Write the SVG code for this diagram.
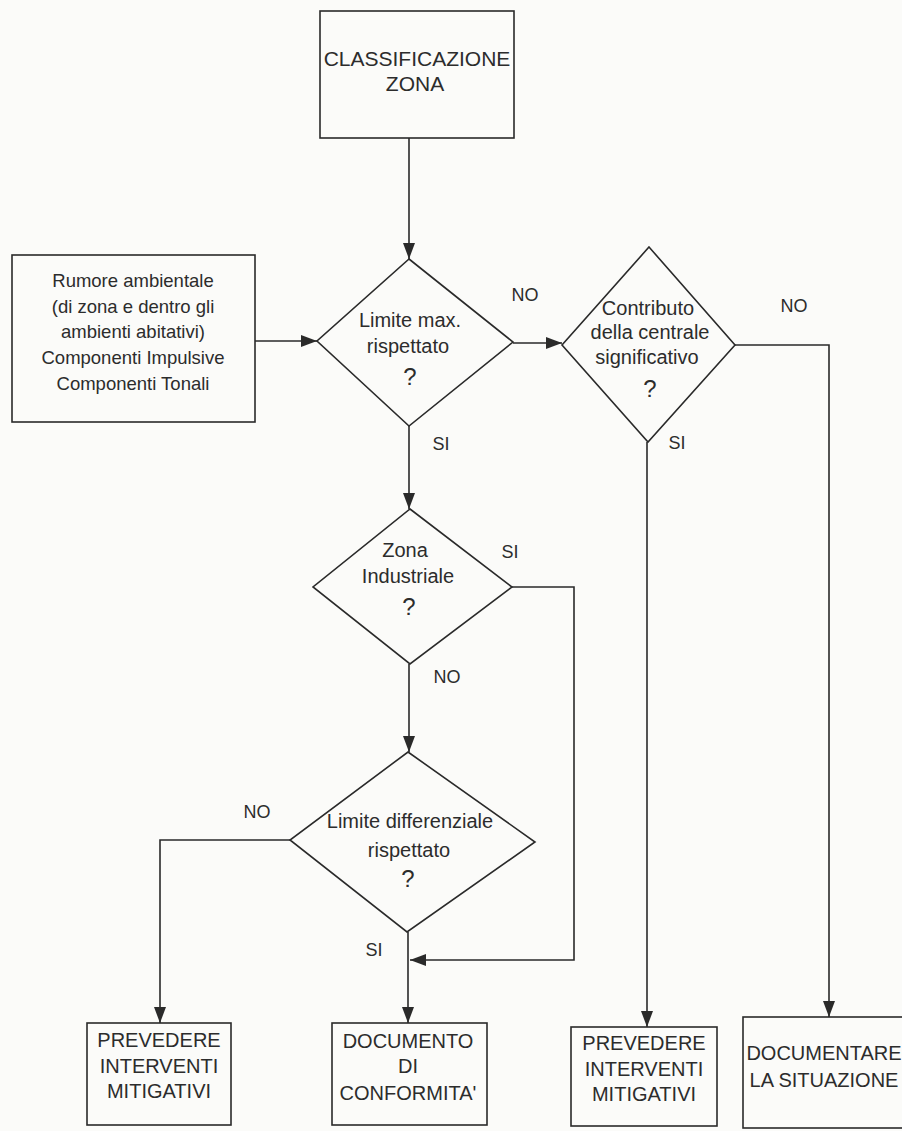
<svg xmlns="http://www.w3.org/2000/svg" width="902" height="1131" viewBox="0 0 902 1131">
<style>
  .box { fill: none; stroke: #2a2a2a; stroke-width: 1.6; }
  .dia { fill: none; stroke: #2a2a2a; stroke-width: 1.6; }
  .ln { fill: none; stroke: #2a2a2a; stroke-width: 1.6; }
  text { font-family: "Liberation Sans", Arial, sans-serif; fill: #2c2c2c; text-anchor: middle; }
  .cap { font-size: 20px; }
  .cap21 { font-size: 21px; }
  .low { font-size: 20px; }
  .lb { font-size: 18.5px; }
  .q { font-size: 24px; }
  .lab { font-size: 18px; }
</style>
<defs>
  <marker id="arr" viewBox="0 0 16 12" refX="16" refY="6" markerWidth="16" markerHeight="12" markerUnits="userSpaceOnUse" orient="auto">
    <path d="M0,0 L16,6 L0,12 Z" fill="#2a2a2a"/>
  </marker>
</defs>
<rect x="0" y="0" width="902" height="1131" fill="#fbfbf9"/>

<g id="connectors">
  <line class="ln" x1="409" y1="138" x2="409" y2="259" marker-end="url(#arr)"/>
  <line class="ln" x1="255" y1="341" x2="317" y2="341" marker-end="url(#arr)"/>
  <line class="ln" x1="513" y1="343" x2="562" y2="343" marker-end="url(#arr)"/>
  <line class="ln" x1="409" y1="426" x2="409" y2="509" marker-end="url(#arr)"/>
  <line class="ln" x1="409" y1="664" x2="409" y2="752" marker-end="url(#arr)"/>
  <polyline class="ln" points="290,840 160,840 160,1023" marker-end="url(#arr)"/>
  <line class="ln" x1="408" y1="932" x2="408" y2="1023" marker-end="url(#arr)"/>
  <polyline class="ln" points="512,587 574,587 574,960 410,960" marker-end="url(#arr)"/>
  <polyline class="ln" points="735,345 829,345 829,1017" marker-end="url(#arr)"/>
  <line class="ln" x1="647" y1="442" x2="647" y2="1027" marker-end="url(#arr)"/>
  <text class="lab" x="525" y="301">NO</text>
  <text class="lab" x="441" y="450">SI</text>
  <text class="lab" x="794" y="312">NO</text>
  <text class="lab" x="677" y="449">SI</text>
  <text class="lab" x="510" y="558">SI</text>
  <text class="lab" x="447" y="683">NO</text>
  <text class="lab" x="257" y="818">NO</text>
  <text class="lab" x="374" y="956">SI</text>
</g>

<g id="classificazione">
  <rect class="box" x="320" y="11" width="194" height="127"/>
  <text class="cap21" x="417" y="66">CLASSIFICAZIONE</text>
  <text class="cap21" x="415" y="91">ZONA</text>
</g>

<g id="rumore">
  <rect class="box" x="12" y="255" width="243" height="167"/>
  <text class="lb" x="133" y="287">Rumore ambientale</text>
  <text class="lb" x="133" y="313">(di zona e dentro gli</text>
  <text class="lb" x="133" y="338">ambienti abitativi)</text>
  <text class="lb" x="133" y="364">Componenti Impulsive</text>
  <text class="lb" x="133" y="390">Componenti Tonali</text>
</g>

<g id="limite-max">
  <polygon class="dia" points="409,259 513,342 409,426 317,341"/>
  <text class="low" x="410" y="327">Limite max.</text>
  <text class="low" x="408" y="353">rispettato</text>
  <text class="q" x="410" y="385">?</text>
</g>

<g id="contributo">
  <polygon class="dia" points="649,247 735,345 648,442 562,345"/>
  <text class="low" x="648" y="315">Contributo</text>
  <text class="low" x="650" y="339">della centrale</text>
  <text class="low" x="647" y="364">significativo</text>
  <text class="q" x="650" y="397">?</text>
</g>

<g id="zona-industriale">
  <polygon class="dia" points="410,509 512,587 410,664 313,587"/>
  <text class="low" x="405" y="557">Zona</text>
  <text class="low" x="408" y="583">Industriale</text>
  <text class="q" x="409" y="615">?</text>
</g>

<g id="limite-differenziale">
  <polygon class="dia" points="408,752 535,842 407,932 290,840"/>
  <text class="low" x="410" y="828">Limite differenziale</text>
  <text class="low" x="409" y="857">rispettato</text>
  <text class="q" x="408" y="887">?</text>
</g>

<g id="prevedere-1">
  <rect class="box" x="87" y="1023" width="144" height="102"/>
  <text class="cap" x="159" y="1047">PREVEDERE</text>
  <text class="cap" x="159" y="1073">INTERVENTI</text>
  <text class="cap" x="159" y="1098">MITIGATIVI</text>
</g>

<g id="documento">
  <rect class="box" x="332" y="1023" width="155" height="102"/>
  <text class="cap" x="408" y="1048">DOCUMENTO</text>
  <text class="cap" x="408" y="1073">DI</text>
  <text class="cap" x="408" y="1100">CONFORMITA'</text>
</g>

<g id="prevedere-2">
  <rect class="box" x="571" y="1027" width="146" height="99"/>
  <text class="cap" x="644" y="1050">PREVEDERE</text>
  <text class="cap" x="644" y="1076">INTERVENTI</text>
  <text class="cap" x="644" y="1101">MITIGATIVI</text>
</g>

<g id="documentare">
  <rect class="box" x="743" y="1017" width="180" height="111"/>
  <text class="cap" x="824" y="1060">DOCUMENTARE</text>
  <text class="cap" x="824" y="1087">LA SITUAZIONE</text>
</g>
</svg>
